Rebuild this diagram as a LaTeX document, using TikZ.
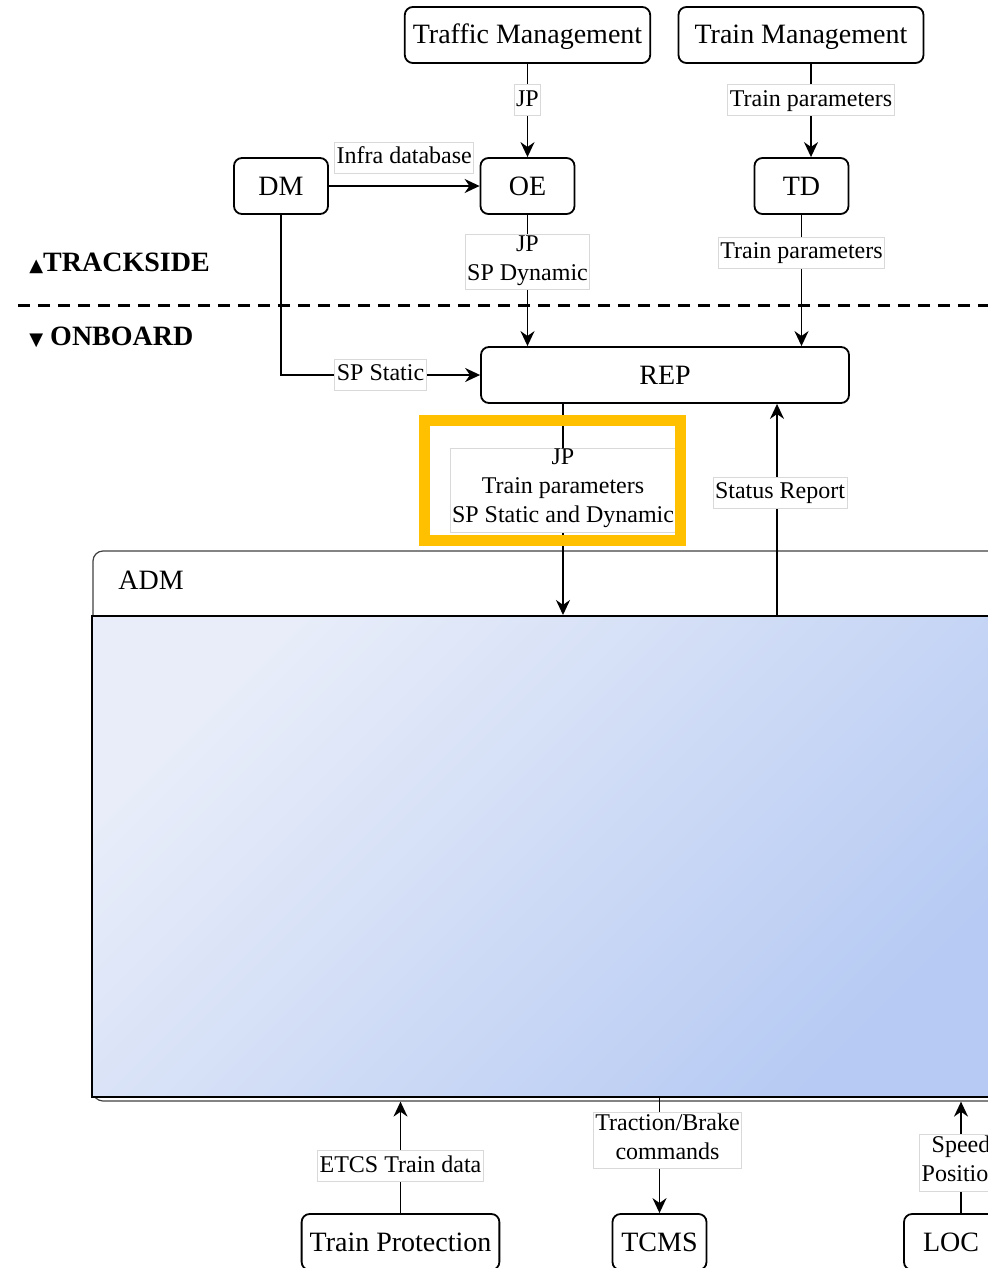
\documentclass[tikz,border=0pt]{standalone}
\usepackage{fontspec}
\setmainfont{Liberation Serif}
\newfontfamily\trifont{DejaVu Sans}
\usetikzlibrary{arrows.meta}

\definecolor{hlyellow}{HTML}{FFC000}
\definecolor{admlight}{HTML}{E8EDF9}
\definecolor{admdark}{HTML}{B6CAF3}

\tikzset{
  block/.style={draw, rounded corners=4pt, line width=0.9pt, inner sep=4pt,
    minimum width=47pt, minimum height=28pt, text height=12pt, text depth=3pt,
    font=\fontsize{14}{16}\selectfont},
  lbl/.style={fill=white, draw=gray!30, line width=0.5pt, align=center,
    inner xsep=1pt, inner ysep=0.5pt, font=\fontsize{12}{14.5}\selectfont,
    execute at begin node=\strut, execute at end node=\strut},
  flow/.style={->, line width=0.85pt},
  side/.style={anchor=west, inner sep=0pt, font=\fontsize{14}{16}\selectfont\bfseries},
}

\begin{document}
\begin{tikzpicture}[x=0.5pt, y=-0.5pt, >={Stealth[length=7.5pt,width=7pt]}]
\useasboundingbox (0,0) rectangle (988,1268);
\clip (0,0) rectangle (988,1268);

% trackside
\node[block, minimum width=122.5pt] (tfm) at (527.5,35) {Traffic Management};
\node[block, minimum width=122.5pt] (trm) at (801,35) {Train Management};
\node[block] (dm) at (281,186) {DM};
\node[block] (oe) at (527.5,186) {OE};
\node[block] (td) at (801.5,186) {TD};

\node[side] (trackside) at (29,263) {{\trifont\fontsize{9}{9}\selectfont ▲}TRACKSIDE};
\node[side] (onboard) at (29,337) {{\trifont\fontsize{9}{9}\selectfont ▼} ONBOARD};

\draw[line width=1.5pt, dash pattern=on 6pt off 4pt] (18,305) -- (1000,305);

% onboard
\node[block, minimum width=184pt] (rep) at (665,375) {REP};
\node[draw=black!75, line width=0.6pt, rounded corners=5pt, minimum width=458.5pt,
  minimum height=275pt] (adm) at (551.5,826) {};
\node[anchor=west, inner sep=0pt, font=\fontsize{14}{16}\selectfont] (admlbl) at (118,580) {ADM};
\node[draw, line width=1pt, top color=admlight, bottom color=admdark, shading angle=45,
  minimum width=459pt, minimum height=240.5pt] (core) at (551,856.5) {};

\node[block] (tp) at (400.5,1242) {Train Protection};
\node[block] (tcms) at (659.5,1242) {TCMS};
\node[block] (loc) at (951,1242) {LOC};

% data flows
\coordinate (trmout) at ([xshift=5pt]trm.south);
\draw[flow] (tfm) -- node[lbl, pos=.39] {JP} (tfm |- oe.north);
\draw[flow] (trmout) -- node[lbl, pos=.39] {Train parameters} (trmout |- td.north);
\draw[flow] (dm) -- node[lbl, above=6pt] {Infra database} (oe);
\draw[flow] (oe) -- node[lbl, pos=.36] {JP\\SP Dynamic} (oe |- rep.north);
\draw[flow] (td) -- node[lbl, pos=.29] {Train parameters} (td |- rep.north);
\draw[flow] (dm) |- node[lbl, pos=.75] {SP Static} (rep);

\coordinate (repout) at ([xshift=-51pt]rep.south);
\coordinate (statin) at ([xshift=56pt]rep.south);
\draw[flow] (repout) -- node[lbl, pos=.41] {JP\\Train parameters\\SP Static and Dynamic} (repout |- core.north);
\draw[flow] (statin |- core.north) -- node[lbl, pos=.58, xshift=1.5pt] {Status Report} (statin);

\coordinate (locout) at ([xshift=5pt]loc.north);
\draw[flow] (tp) -- node[lbl, pos=.42] {ETCS Train data} (tp |- adm.south);
\draw[flow] (tcms |- core.south) -- node[lbl, pos=.37, xshift=4pt] {Traction/Brake\\commands} (tcms);
\draw[flow] (locout) -- node[lbl, pos=.45] {Speed\\Position} (locout |- adm.south);

% highlight
\draw[hlyellow, line width=5.5pt] (424,420) rectangle (680,540);
\end{tikzpicture}
\end{document}
